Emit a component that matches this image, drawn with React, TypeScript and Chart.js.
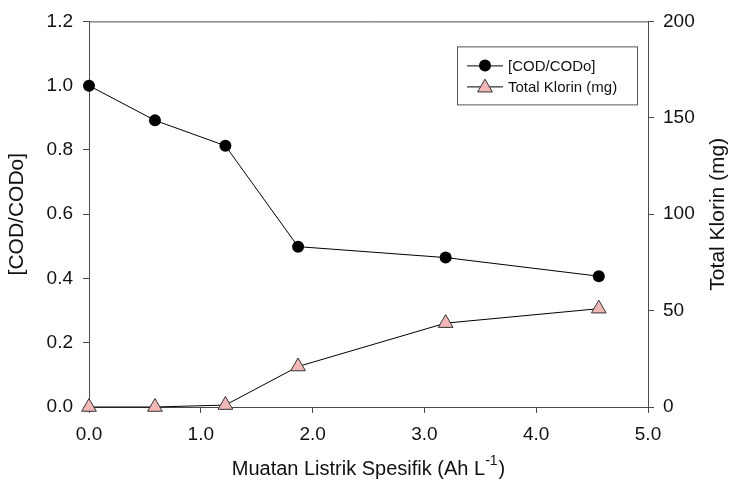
import React, { useEffect, useRef } from 'react';
import { Chart, registerables } from 'chart.js';

Chart.register(...registerables);

// ---- data ----
const chargeX = [0, 0.59, 1.22, 1.87, 3.19, 4.56];
const codRatio = [1.0, 0.892, 0.813, 0.499, 0.465, 0.407];
const chlorineMg = [0, 0, 1, 21, 43.5, 51];

const codLabel = '[COD/CODo]';
const chlorineLabel = 'Total Klorin (mg)';
const xTitleMain = 'Muatan Listrik Spesifik (Ah L';
const xTitleSup = '-1';
const xTitleEnd = ')';

const FONT = "'Liberation Sans', Arial, Helvetica, sans-serif";
const AXIS = '#4a4a4a';
const TEXT = '#111111';
const PINK = '#f2b8b8';

const framePlugin = {
  id: 'framePlugin',
  afterDraw(chart: any) {
    const { ctx, chartArea } = chart;
    const { left, right, top, bottom } = chartArea;
    ctx.save();
    // top border
    ctx.strokeStyle = AXIS;
    ctx.lineWidth = 1;
    ctx.beginPath();
    ctx.moveTo(left, top + 0.5);
    ctx.lineTo(right, top + 0.5);
    ctx.stroke();

    // right axis title (reads bottom to top)
    ctx.save();
    ctx.translate(right + 70, (top + bottom) / 2);
    ctx.rotate(-Math.PI / 2);
    ctx.fillStyle = TEXT;
    ctx.font = `21px ${FONT}`;
    ctx.textAlign = 'center';
    ctx.textBaseline = 'middle';
    ctx.fillText(chlorineLabel, 0, 0);
    ctx.restore();

    // x axis title with superscript
    const cx = (left + right) / 2;
    const baseY = bottom + 68;
    ctx.fillStyle = TEXT;
    ctx.textBaseline = 'alphabetic';
    ctx.textAlign = 'left';
    const mainFont = `20px ${FONT}`;
    const supFont = `14px ${FONT}`;
    ctx.font = mainFont;
    const w1 = ctx.measureText(xTitleMain).width;
    const w3 = ctx.measureText(xTitleEnd).width;
    ctx.font = supFont;
    const w2 = ctx.measureText(xTitleSup).width;
    const total = w1 + w2 + w3 + 1;
    let x = cx - total / 2;
    ctx.font = mainFont;
    ctx.fillText(xTitleMain, x, baseY);
    x += w1;
    ctx.font = supFont;
    ctx.fillText(xTitleSup, x, baseY - 10);
    x += w2 + 1;
    ctx.font = mainFont;
    ctx.fillText(xTitleEnd, x, baseY);

    // legend
    const bx = right - 191;
    const by = top + 25;
    const bw = 180;
    const bh = 58;
    ctx.fillStyle = '#ffffff';
    ctx.fillRect(bx, by, bw, bh);
    ctx.strokeStyle = '#555555';
    ctx.lineWidth = 1;
    ctx.strokeRect(bx + 0.5, by + 0.5, bw, bh);

    const rows = [
      { y: by + 19, label: codLabel, kind: 'circle' },
      { y: by + 40, label: chlorineLabel, kind: 'triangle' },
    ];
    rows.forEach((r) => {
      ctx.strokeStyle = '#000';
      ctx.lineWidth = 1;
      ctx.beginPath();
      ctx.moveTo(bx + 10, r.y + 0.5);
      ctx.lineTo(bx + 46, r.y + 0.5);
      ctx.stroke();
      const mx = bx + 28;
      if (r.kind === 'circle') {
        ctx.fillStyle = '#000';
        ctx.beginPath();
        ctx.arc(mx, r.y, 6, 0, Math.PI * 2);
        ctx.fill();
      } else {
        const rad = 8.5;
        ctx.fillStyle = PINK;
        ctx.strokeStyle = '#333';
        ctx.beginPath();
        ctx.moveTo(mx, r.y - rad * 0.85);
        ctx.lineTo(mx + rad * 0.87, r.y + rad * 0.65);
        ctx.lineTo(mx - rad * 0.87, r.y + rad * 0.65);
        ctx.closePath();
        ctx.fill();
        ctx.stroke();
      }
      ctx.fillStyle = TEXT;
      ctx.font = `15px ${FONT}`;
      ctx.textBaseline = 'middle';
      ctx.fillText(r.label, bx + 51, r.y + 1);
    });
    ctx.restore();
  },
};

export default function App() {
  const ref = useRef<HTMLCanvasElement | null>(null);

  useEffect(() => {
    if (!ref.current) return;
    const chart = new Chart(ref.current, {
      type: 'line',
      data: {
        datasets: [
          {
            label: codLabel,
            data: chargeX.map((x, i) => ({ x, y: codRatio[i] })),
            yAxisID: 'y',
            borderColor: '#000',
            borderWidth: 1,
            backgroundColor: '#000',
            pointStyle: 'circle',
            pointRadius: 6,
            pointBorderWidth: 0,
            pointBackgroundColor: '#000',
            tension: 0,
            clip: false as any,
          },
          {
            label: chlorineLabel,
            data: chargeX.map((x, i) => ({ x, y: chlorineMg[i] })),
            yAxisID: 'y1',
            borderColor: '#000',
            borderWidth: 1,
            backgroundColor: PINK,
            pointStyle: 'triangle',
            pointRadius: 8.5,
            pointBorderWidth: 1,
            pointBorderColor: '#333',
            pointBackgroundColor: PINK,
            tension: 0,
            clip: false as any,
          },
        ],
      },
      options: {
        animation: false,
        responsive: false,
        maintainAspectRatio: false,
        layout: { padding: { top: 18, left: 0, right: 0, bottom: 0 } },
        plugins: {
          legend: { display: false },
          tooltip: { enabled: false },
        },
        scales: {
          x: {
            type: 'linear',
            min: 0,
            max: 5,
            afterFit: (s: any) => { s.height = 76; },
            ticks: {
              stepSize: 1,
              callback: (v: any) => Number(v).toFixed(1),
              font: { family: FONT, size: 19 },
              color: TEXT,
              padding: 10,
              maxRotation: 0,
            },
            grid: { drawOnChartArea: false, drawTicks: true, tickLength: 6, tickColor: AXIS },
            border: { display: true, color: AXIS, width: 1 },
          },
          y: {
            type: 'linear',
            position: 'left',
            min: 0,
            max: 1.2,
            afterFit: (s: any) => { s.width = 89; },
            ticks: {
              stepSize: 0.2,
              callback: (v: any) => Number(v).toFixed(1),
              font: { family: FONT, size: 19 },
              color: TEXT,
              padding: 10,
            },
            grid: { drawOnChartArea: false, drawTicks: true, tickLength: 6, tickColor: AXIS },
            border: { display: true, color: AXIS, width: 1 },
            title: {
              display: true,
              text: codLabel,
              font: { family: FONT, size: 21 },
              color: TEXT,
              padding: { top: 5, bottom: 0 },
            },
          },
          y1: {
            type: 'linear',
            position: 'right',
            min: 0,
            max: 200,
            afterFit: (s: any) => { s.width = 87; },
            ticks: {
              stepSize: 50,
              callback: (v: any) => String(v),
              font: { family: FONT, size: 19 },
              color: TEXT,
              padding: 9,
            },
            grid: { drawOnChartArea: false, drawTicks: true, tickLength: 6, tickColor: AXIS },
            border: { display: true, color: AXIS, width: 1 },
            title: { display: false },
          },
        },
      },
      plugins: [framePlugin],
    });
    return () => chart.destroy();
  }, []);

  return (
    <div style={{ position: 'absolute', left: 0, top: 0, width: 735, height: 483, background: '#fff' }}>
      <canvas ref={ref} width={735} height={483} style={{ display: 'block', width: 735, height: 483 }} />
    </div>
  );
}
